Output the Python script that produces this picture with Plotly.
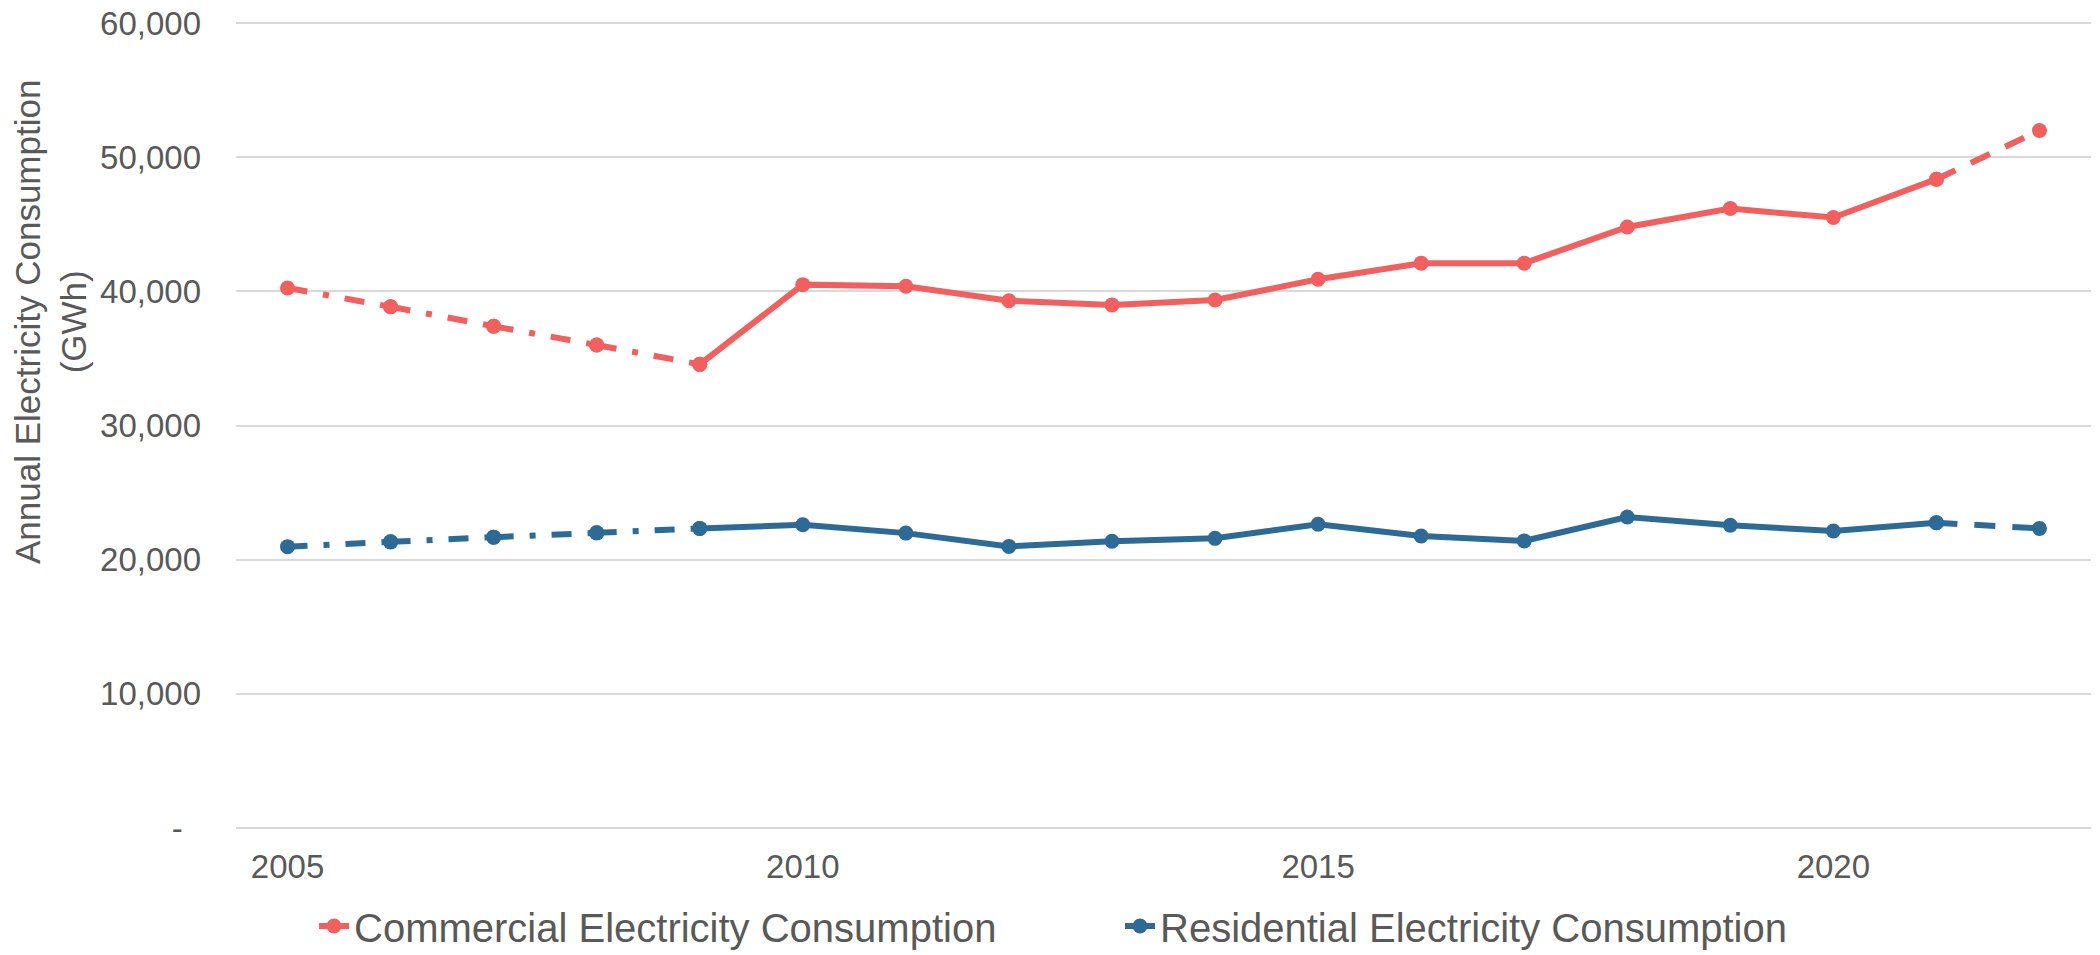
import plotly.graph_objects as go

years = list(range(2005, 2023))
commercial = [40250, 38850, 37400, 36000, 34560, 40500, 40380, 39300, 38990,
              39350, 40900, 42100, 42100, 44800, 46170, 45500, 48360, 51990]
residential = [20970, 21330, 21680, 22000, 22330, 22600, 21980, 20990, 21370,
               21590, 22640, 21760, 21400, 23180, 22560, 22140, 22750, 22330]
series_names = ["Commercial Electricity Consumption", "Residential Electricity Consumption"]
y_tick_vals = [0, 10000, 20000, 30000, 40000, 50000, 60000]
y_tick_text = ["-\u00a0\u00a0", "10,000", "20,000", "30,000", "40,000", "50,000", "60,000"]
x_tick_vals = [2005, 2010, 2015, 2020]

# segments up to this year are drawn dash-dot, segments after that year dashed
HIST_END = 2009
PROJ_START = 2021

W, H = 2100, 955
ML, MR, MT, MB = 236, 9, 21, 127
PW = W - ML - MR
PH = H - MT - MB
Y_TOP = 60150  # leaves the 60,000 gridline just inside the plot area

colors = ["#F15F5F", "#2E6A96"]
font_color = "#595959"
FONT = "Liberation Sans, Arial, sans-serif"

fig = go.Figure()

for s, (name, vals) in enumerate(zip(series_names, [commercial, residential])):
    col = colors[s]
    legend_id = "legend" if s == 0 else "legend2"
    idx = [i for i, yr in enumerate(years) if HIST_END <= yr <= PROJ_START]
    fig.add_trace(go.Scatter(
        x=[years[i] for i in idx], y=[vals[i] for i in idx],
        mode="lines+markers", name=name,
        line=dict(color=col, width=6),
        marker=dict(color=col, size=15),
        showlegend=True, legend=legend_id, hoverinfo="x+y"))
    for i in range(len(years) - 1):
        if years[i + 1] <= HIST_END:
            dash = "20px,16px,6px,16px"
        elif years[i] >= PROJ_START:
            dash = "21px,17px"
        else:
            continue
        fig.add_trace(go.Scatter(
            x=years[i:i + 2], y=vals[i:i + 2],
            mode="lines+markers", name=name,
            line=dict(color=col, width=6, dash=dash),
            marker=dict(color=col, size=15),
            showlegend=False, hoverinfo="x+y"))

def px_x(p):
    return (p - ML) / PW

def px_y(p):
    return (H - MB - p) / PH

fig.update_layout(
    width=W, height=H,
    margin=dict(l=ML, r=MR, t=MT, b=MB, autoexpand=False),
    paper_bgcolor="white", plot_bgcolor="white",
    font=dict(family=FONT, color=font_color, size=33),
    xaxis=dict(range=[2004.5, 2022.5], tickvals=x_tick_vals,
               showgrid=False, zeroline=False, showline=False,
               ticks="", ticklabelstandoff=16,
               tickfont=dict(size=33, color=font_color)),
    yaxis=dict(range=[0, Y_TOP], tickvals=y_tick_vals, ticktext=y_tick_text,
               showgrid=True, gridcolor="#D9D9D9", gridwidth=2,
               zeroline=True, zerolinecolor="#D9D9D9", zerolinewidth=2,
               showline=False, ticks="", ticklabelstandoff=34,
               tickfont=dict(size=33, color=font_color)),
    legend=dict(orientation="h", x=px_x(314), y=px_y(926), xanchor="left",
                yanchor="middle", font=dict(size=40, color=font_color),
                bgcolor="rgba(0,0,0,0)"),
    legend2=dict(orientation="h", x=px_x(1120), y=px_y(926), xanchor="left",
                 yanchor="middle", font=dict(size=40, color=font_color),
                 bgcolor="rgba(0,0,0,0)"),
    annotations=[dict(
        text="Annual Electricity Consumption<br>(GWh)",
        textangle=-90, xref="paper", yref="paper",
        x=px_x(50), y=px_y(322), xanchor="center", yanchor="middle",
        showarrow=False, font=dict(size=35, color=font_color, family=FONT))],
)

fig.write_html("out.html",
               config={"displayModeBar": False},
               post_script="document.body.style.margin='0px';"
                           "document.body.style.overflow='hidden';")
